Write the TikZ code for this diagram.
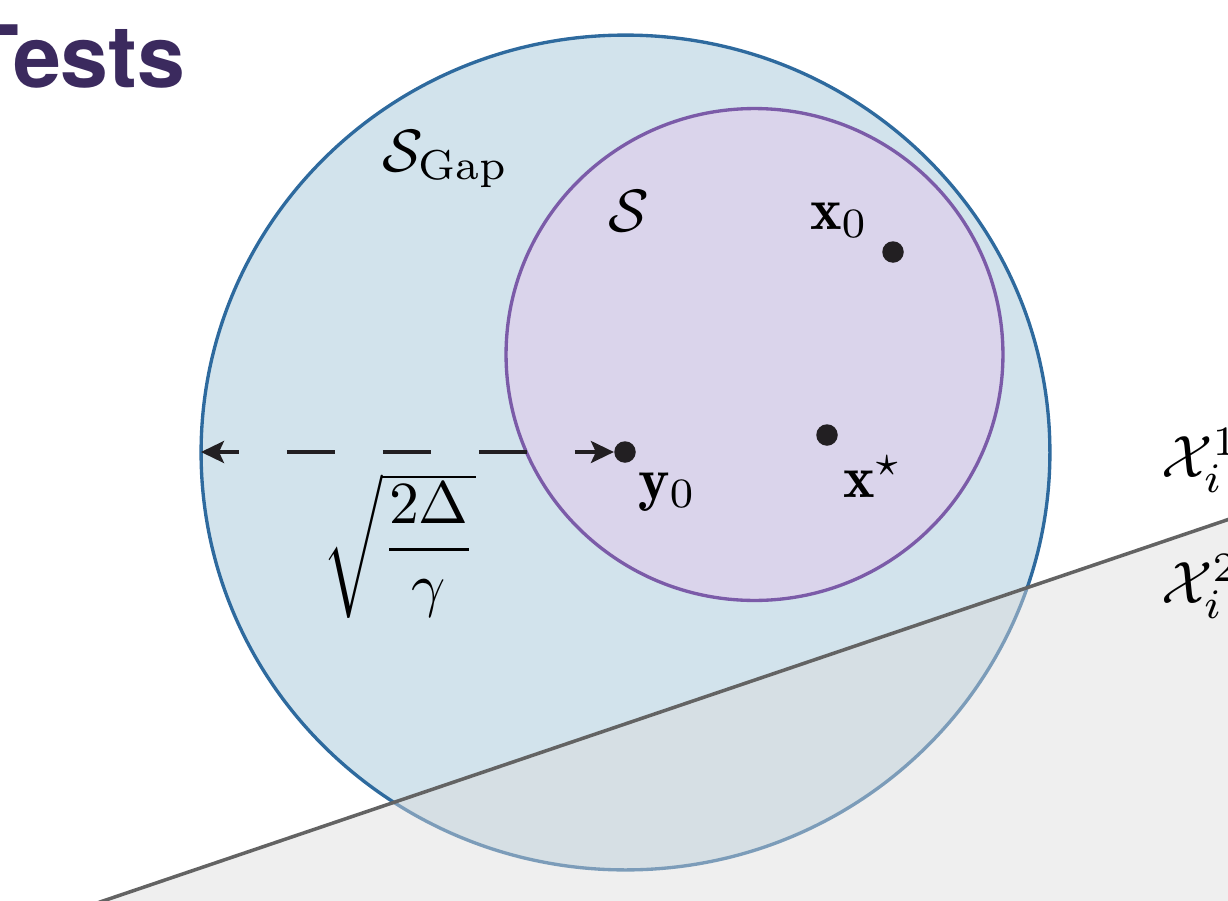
\RequirePackage{fix-cm}
\documentclass[tikz,border=0pt]{standalone}
\usepackage{amsmath}
\usepackage{fontspec}
\newfontfamily\headfont{TeX Gyre Heros}
\usetikzlibrary{arrows.meta}
\definecolor{gapfill}{RGB}{210,227,236}
\definecolor{gapline}{RGB}{46,106,158}
\definecolor{sfill}{RGB}{218,212,235}
\definecolor{sline}{RGB}{123,91,168}
\definecolor{planegray}{RGB}{219,219,219}
\definecolor{planeline}{RGB}{99,99,99}
\definecolor{headcol}{RGB}{59,42,94}
\definecolor{dotcol}{RGB}{34,31,34}
\tikzset{
  gapset/.style={fill=gapfill, draw=gapline, line width=1.9pt},
  sset/.style={fill=sfill, draw=sline, line width=1.9pt},
  planefill/.style={fill=planegray, fill opacity=0.45},
  planeedge/.style={draw=planeline, line width=2pt},
  dotnode/.style={circle, fill=dotcol, inner sep=0pt, minimum size=0.43cm},
  lbl/.style={inner sep=0pt, scale=3.4},
  radarrow/.style={draw=dotcol, line width=2pt, {Stealth[length=0.46cm, width=0.44cm, inset=0.1cm]}-{Stealth[length=0.46cm, width=0.44cm, inset=0.1cm]},
    dash pattern=on 0.96cm off 0.96cm, dash phase=0.54cm},
  headtxt/.style={inner sep=0pt, text=headcol, font=\headfont\bfseries\fontsize{49}{55}\selectfont}
}
\begin{document}
\begin{tikzpicture}[x=0.02cm, y=-0.02cm]
\useasboundingbox (0,0) rectangle (1228,900);
\clip (0,0) rectangle (1228,900);
% sets
\coordinate (gc) at (625.5,452.5);
\coordinate (sc) at (754.5,354.5);
\draw[gapset] (gc) ellipse [x radius=8.49cm, y radius=8.35cm];
\draw[sset] (sc) ellipse [x radius=4.97cm, y radius=4.92cm];
% half-space
\coordinate (pA) at (95,903.7);
\coordinate (pB) at (1240,515.5);
\fill[planefill] (pA) -- (pB) -- (1240,910) -- (95,910) -- cycle;
\draw[planeedge] (pA) -- (pB);
% points
\node[dotnode] (x0) at (893,252) {};
\node[dotnode] (xs) at (827,435) {};
\node[dotnode] (y0) at (625,452) {};
\coordinate (gapleft) at (201,452);
\draw[radarrow] (gapleft) -- (y0.west);
% labels
\node[headtxt, anchor=base west] (title) at (-34,87) {Tests};
\node[lbl, anchor=base west] (lgap) at (381,171) {$\mathcal{S}_{\mathrm{Gap}}$};
\node[lbl, anchor=base west] (ls) at (607,231) {$\mathcal{S}$};
\node[lbl, anchor=base west] (lx0) at (809,229) {$\mathbf{x}_0$};
\node[lbl, anchor=base west] (lxs) at (842,497) {$\mathbf{x}^\star$};
\node[lbl, anchor=base west] (ly0) at (637,499) {$\mathbf{y}_0$};
\node[lbl, anchor=north west] (lrad) at (321,472) {$\sqrt{\dfrac{2\Delta}{\gamma}}$};
\node[lbl, anchor=base west] (lx1) at (1160,477) {$\mathcal{X}_i^1$};
\node[lbl, anchor=base west] (lx2) at (1160,603) {$\mathcal{X}_i^2$};
\end{tikzpicture}
\end{document}
